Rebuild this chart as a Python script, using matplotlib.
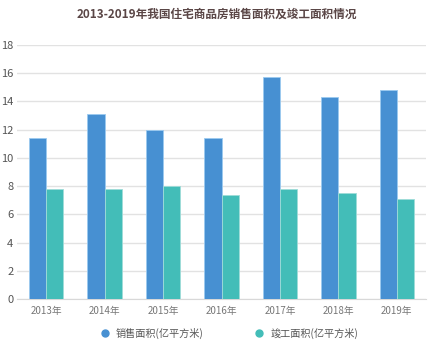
import matplotlib
matplotlib.use("Agg")
import matplotlib.pyplot as plt
from matplotlib.lines import Line2D
import numpy as np

plt.rcParams['font.family'] = ['Noto Sans CJK SC', 'DejaVu Sans']

# 住宅商品房销售面积 / 竣工面积 (亿平方米)
years = ["2013年", "2014年", "2015年", "2016年", "2017年", "2018年", "2019年"]
sales_area = [11.4, 13.1, 12.0, 11.4, 15.7, 14.3, 14.8]
completed_area = [7.8, 7.8, 8.0, 7.4, 7.8, 7.5, 7.1]

blue = "#4790d2"
teal = "#43bdb8"

fig = plt.figure(figsize=(4.29, 3.43), dpi=100)
ax = fig.add_axes([17 / 429, 1 - 299 / 343, 409 / 429, 254 / 343])

x = np.arange(len(years))
w = 0.295
ax.bar(x - w / 2, sales_area, w, color=blue, edgecolor="#9ccaf0", linewidth=0.6, zorder=3)
ax.bar(x + w / 2, completed_area, w, color=teal, edgecolor="#9fdcd8", linewidth=0.6, zorder=3)

ax.set_xlim(-0.5, len(years) - 0.5)
ax.set_ylim(0, 18)
ax.set_yticks(range(0, 19, 2))
ax.set_xticks(x)
ax.set_xticklabels(years)

ax.grid(axis="y", color="#e2e2e2", linewidth=1.0, zorder=0)
for s in ["top", "right", "left"]:
    ax.spines[s].set_visible(False)
ax.spines["bottom"].set_color("#d8d8d8")
ax.tick_params(axis="both", length=0)
ax.tick_params(axis="y", labelsize=8, labelcolor="#555555", pad=2.5)
ax.tick_params(axis="x", labelsize=7, labelcolor="#777777", pad=5)

fig.text(0.506, 0.978, "2013-2019年我国住宅商品房销售面积及竣工面积情况",
         ha="center", va="top", fontsize=8.4, fontweight="bold", color="#5a4646")

handles = [
    Line2D([], [], marker="o", linestyle="", markersize=5, color=blue),
    Line2D([], [], marker="o", linestyle="", markersize=5, color=teal),
]
fig.legend(handles, ["销售面积(亿平方米)", "竣工面积(亿平方米)"],
           loc="center", bbox_to_anchor=(229 / 429, 1 - 333 / 343), ncol=2,
           frameon=False, fontsize=7.3, labelcolor="#555555",
           handletextpad=0.6, columnspacing=5.0, handlelength=1.0)

fig.savefig("out.png", dpi=100)
